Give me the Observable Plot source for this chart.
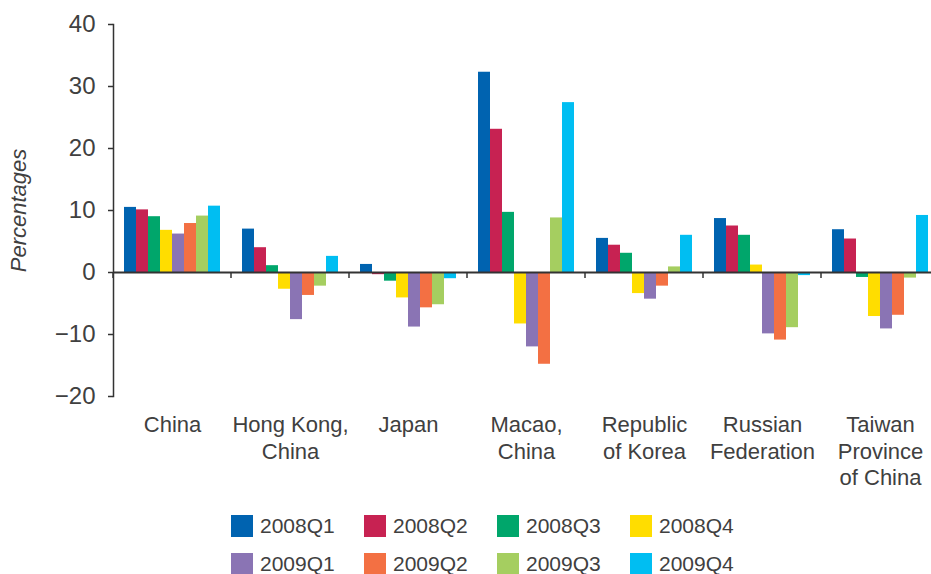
<!DOCTYPE html>
<html>
<head>
<meta charset="utf-8">
<script src="https://cdn.jsdelivr.net/npm/d3@7"></script>
<script src="https://cdn.jsdelivr.net/npm/@observablehq/plot@0.6"></script>
<style>
html, body { margin: 0; padding: 0; background: #fff; overflow: hidden; }
#chart svg { display: block; }
#chart g[aria-label="y-axis label"] text { font-style: italic; font-size: 22px; }
#legend .lg-swatches-wrap {
  display: grid;
  grid-template-columns: repeat(4, 133px);
  grid-auto-rows: 38px;
  margin: 7px 0 0 231px;
  font: 21px "Liberation Sans", Arial, sans-serif;
  color: #404040;
  min-height: 0;
}
#legend .lg-swatches-wrap .lg-swatch { margin-right: 0; display: inline-flex; align-items: center; }
#legend .lg-swatch > svg { margin-right: 7px; }
</style>
</head>
<body>
<div id="chart"></div>
<div id="legend"></div>
<script>
const categories = ["China", "Hong Kong, China", "Japan", "Macao, China", "Republic of Korea", "Russian Federation", "Taiwan Province of China"];
const tickLabels = ["China", "Hong Kong,\nChina", "Japan", "Macao,\nChina", "Republic\nof Korea", "Russian\nFederation", "Taiwan\nProvince\nof China"];
const quarters = ["2008Q1", "2008Q2", "2008Q3", "2008Q4", "2009Q1", "2009Q2", "2009Q3", "2009Q4"];
const colors = ["#0063B0", "#C72252", "#00A66B", "#FFDD00", "#8A74B4", "#F37043", "#A5CE60", "#00BEF2"];

const v2008Q1 = [10.5, 7.0, 1.3, 32.3, 5.5, 8.7, 6.9];
const v2008Q2 = [10.1, 4.0, -0.35, 23.1, 4.4, 7.5, 5.4];
const v2008Q3 = [9.0, 1.1, -1.4, 9.7, 3.1, 6.0, -0.8];
const v2008Q4 = [6.8, -2.7, -4.1, -8.3, -3.4, 1.2, -7.1];
const v2009Q1 = [6.2, -7.6, -8.8, -12.0, -4.3, -9.9, -9.1];
const v2009Q2 = [7.9, -3.7, -5.7, -14.8, -2.2, -10.9, -6.9];
const v2009Q3 = [9.1, -2.2, -5.2, 8.8, 0.9, -8.9, -0.9];
const v2009Q4 = [10.7, 2.6, -1.0, 27.4, 6.0, -0.5, 9.2];

const yTicks = [-20, -10, 0, 10, 20, 30, 40];
const yLabel = "Percentages";

const series = [v2008Q1, v2008Q2, v2008Q3, v2008Q4, v2009Q1, v2009Q2, v2009Q3, v2009Q4];
const data = quarters.flatMap((q, i) => categories.map((c, j) => ({category: c, quarter: q, value: series[i][j]})));

// small tick marks at category boundaries on the zero line (drawn per facet at its left edge)
const categoryTicks = (index, scales) => {
  const x0 = scales.x.range()[0];
  const y0 = scales.y(0);
  const g = d3.create("svg:g").attr("aria-label", "category-ticks");
  g.append("line")
    .attr("x1", x0).attr("x2", x0)
    .attr("y1", y0).attr("y2", y0 + 6)
    .attr("stroke", "#333").attr("stroke-width", 1.5);
  return g.node();
};

const chart = Plot.plot({
  width: 931,
  height: 500,
  marginTop: 24,
  marginBottom: 104,
  marginLeft: 113,
  marginRight: -8,
  style: {fontFamily: "'Liberation Sans', Arial, sans-serif", color: "#404040", background: "white"},
  fx: {domain: categories, padding: 0, axis: null},
  x: {domain: quarters, paddingInner: 0, paddingOuter: 0.72, axis: null},
  y: {domain: [-20, 40], axis: null},
  color: {domain: quarters, range: colors},
  marks: [
    Plot.barY(data, {fx: "category", x: "quarter", y: "value", fill: "quarter"}),
    Plot.ruleY([0], {stroke: "#333", strokeWidth: 2}),
    categoryTicks,
    Plot.frame({anchor: "left", facetAnchor: "left", stroke: "#333", strokeWidth: 1.5}),
    Plot.axisY({
      ticks: yTicks, tickSize: 5, tickPadding: 13, fontSize: 24,
      stroke: "#333", strokeWidth: 1.5, fill: "#404040",
      label: yLabel, labelArrow: "none", labelAnchor: "center", labelOffset: 103
    }),
    Plot.axisFx({
      anchor: "bottom", tickSize: 0, tickPadding: 17, fontSize: 22, lineHeight: 1.2,
      fill: "#404040", label: null,
      tickFormat: d => tickLabels[categories.indexOf(d)]
    })
  ]
});
// make sure the axis label has no arrow glyph
d3.select(chart).selectAll('g[aria-label="y-axis label"] text').each(function() {
  if (this.textContent !== yLabel) this.textContent = yLabel;
});
document.getElementById("chart").appendChild(chart);

const legend = Plot.legend({
  color: {domain: quarters, range: colors},
  legend: "swatches",
  swatchWidth: 22,
  swatchHeight: 22,
  className: "lg"
});
document.getElementById("legend").appendChild(legend);
</script>
</body>
</html>
